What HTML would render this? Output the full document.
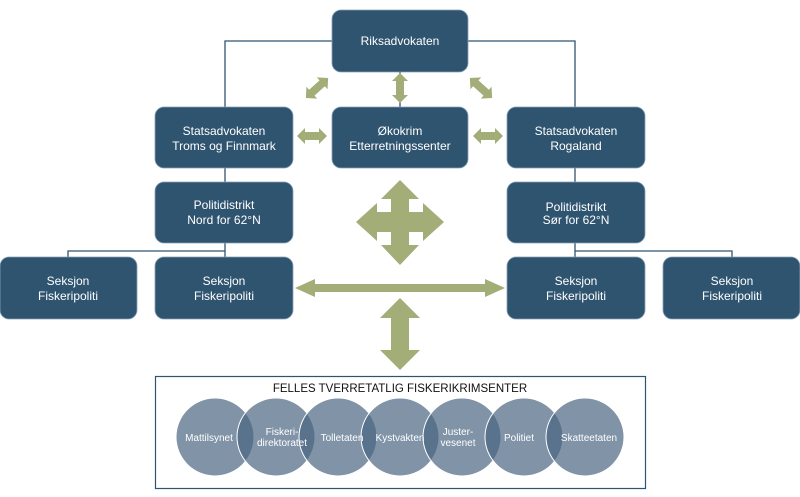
<!DOCTYPE html>
<html><head><meta charset="utf-8"><style>
html,body{margin:0;padding:0;background:#fff;}
svg{display:block;}
text{font-family:"Liberation Sans",sans-serif;}
</style></head><body>
<svg width="800" height="497" viewBox="0 0 800 497" xmlns="http://www.w3.org/2000/svg">
<g stroke="#2f5470" stroke-width="1.3" fill="none">
<polyline points="332,41 225,41 225,107"/>
<polyline points="468,41 575,41 575,107"/>
<line x1="400" y1="72" x2="400" y2="107"/>
<line x1="225" y1="168" x2="225" y2="182"/>
<line x1="575" y1="168" x2="575" y2="182"/>
<polyline points="225,243 225,257"/>
<polyline points="68,257 68,251 225,251"/>
<polyline points="575,243 575,257"/>
<polyline points="732,257 732,251 575,251"/>
</g>
<g fill="#2f5470" stroke="#8aa0b4" stroke-width="0.8">
<rect x="332" y="10" width="136" height="62" rx="9"/>
<rect x="155" y="107" width="138" height="61" rx="9"/>
<rect x="332" y="107" width="136" height="61" rx="9"/>
<rect x="507" y="107" width="138" height="61" rx="9"/>
<rect x="155" y="182" width="138" height="61" rx="9"/>
<rect x="507" y="182" width="138" height="61" rx="9"/>
<rect x="0" y="257" width="137" height="62" rx="9"/>
<rect x="155" y="257" width="138" height="62" rx="9"/>
<rect x="507" y="257" width="138" height="62" rx="9"/>
<rect x="663" y="257" width="137" height="62" rx="9"/>
</g>
<g fill="#fff" font-size="12" text-anchor="middle">
<text x="400" y="45">Riksadvokaten</text>
<text x="224" y="135">Statsadvokaten</text><text x="224" y="150">Troms og Finnmark</text>
<text x="400" y="135">Økokrim</text><text x="400" y="150">Etterretningssenter</text>
<text x="576" y="135">Statsadvokaten</text><text x="576" y="150">Rogaland</text>
<text x="224" y="209">Politidistrikt</text><text x="224" y="224">Nord for 62°N</text>
<text x="576" y="211">Politidistrikt</text><text x="576" y="224">Sør for 62°N</text>
<text x="68" y="285">Seksjon</text><text x="68" y="300">Fiskeripoliti</text>
<text x="224" y="285">Seksjon</text><text x="224" y="300">Fiskeripoliti</text>
<text x="576" y="285">Seksjon</text><text x="576" y="300">Fiskeripoliti</text>
<text x="732" y="285">Seksjon</text><text x="732" y="300">Fiskeripoliti</text>
</g>
<g fill="#a3ad78">
<path d="M-15 0 L-7 -8 L-7 -4 L7 -4 L7 -8 L15 0 L7 8 L7 4 L-7 4 L-7 8 Z" transform="translate(312,136)"/>
<path d="M-15 0 L-7 -8 L-7 -4 L7 -4 L7 -8 L15 0 L7 8 L7 4 L-7 4 L-7 8 Z" transform="translate(488,136)"/>
<path d="M-15 0 L-7 -8 L-7 -4 L7 -4 L7 -8 L15 0 L7 8 L7 4 L-7 4 L-7 8 Z" transform="translate(400,88) rotate(90)"/>
<path d="M-15 0 L-7 -8 L-7 -4 L7 -4 L7 -8 L15 0 L7 8 L7 4 L-7 4 L-7 8 Z" transform="translate(317,88) rotate(-42)"/>
<path d="M-15 0 L-7 -8 L-7 -4 L7 -4 L7 -8 L15 0 L7 8 L7 4 L-7 4 L-7 8 Z" transform="translate(481,88) rotate(42)"/>
<path d="M295 288 L315 279 L315 284 L485 284 L485 279 L505 288 L485 297 L485 292 L315 292 L315 297 Z"/>
<path d="M400 298 L420 318 L409 318 L409 350 L420 350 L400 370 L380 350 L391 350 L391 318 L380 318 Z"/>
<path d="M400 180 L419 199 L409 199 L409 212 L423 212 L423 203 L444 222 L423 241 L423 232 L409 232 L409 245 L419 245 L400 265 L381 245 L391 245 L391 232 L377 232 L377 241 L356 222 L377 203 L377 212 L391 212 L391 199 L381 199 Z"/>
</g>
<rect x="155.5" y="376.5" width="490" height="112" fill="#fff" stroke="#2f5470" stroke-width="1.2"/>
<text x="400" y="392" font-size="11.5" text-anchor="middle" fill="#111">FELLES TVERRETATLIG FISKERIKRIMSENTER</text>
<g fill="#4a6582" fill-opacity="0.7" stroke="#fff" stroke-width="1">
<circle cx="215" cy="437" r="39"/>
<circle cx="276" cy="437" r="39"/>
<circle cx="338" cy="437" r="39"/>
<circle cx="400" cy="437" r="39"/>
<circle cx="462" cy="437" r="39"/>
<circle cx="524" cy="437" r="39"/>
<circle cx="585" cy="437" r="39"/>
</g>
<g fill="#fff" font-size="10" text-anchor="middle">
<text x="209" y="441">Mattilsynet</text>
<text x="282" y="435">Fiskeri-</text><text x="282" y="446">direktoratet</text>
<text x="342" y="441">Tolletaten</text>
<text x="400" y="441">Kystvakten</text>
<text x="458" y="435">Juster-</text><text x="458" y="446">vesenet</text>
<text x="519" y="441">Politiet</text>
<text x="589" y="441">Skatteetaten</text>
</g>
</svg>
</body></html>
